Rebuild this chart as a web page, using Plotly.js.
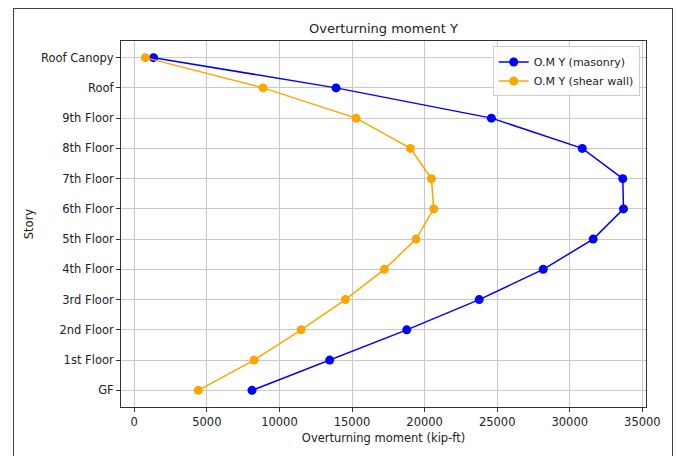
<!DOCTYPE html>
<html>
<head>
<meta charset="utf-8">
<script src="https://cdn.plot.ly/plotly-3.0.1.min.js"></script>
<style>
html,body{margin:0;padding:0;background:#fff;}
#wrap{position:relative;width:678px;height:456px;overflow:hidden;}
#chart{position:absolute;left:0;top:0;width:678px;height:456px;}
#frame{position:absolute;left:13px;top:8px;width:658px;height:470px;border:1px solid #444;pointer-events:none;}
</style>
</head>
<body>
<div id="wrap"><div id="chart"></div><div id="frame"></div></div>
<script>
const stories = ["GF","1st Floor","2nd Floor","3rd Floor","4th Floor","5th Floor","6th Floor","7th Floor","8th Floor","9th Floor","Roof","Roof Canopy"];
const masonry = [8110,13460,18770,23760,28170,31610,33700,33650,30860,24600,13900,1330];
const shearWall = [4410,8250,11490,14540,17230,19410,20630,20470,19020,15280,8870,760];
const xTicks = [0,5000,10000,15000,20000,25000,30000,35000];

const font = "DejaVu Sans, sans-serif";
const traces = [
  {x: masonry, y: stories, name: "O.M Y (masonry)", type: "scatter", mode: "lines+markers",
   line: {color: "#0000ff", width: 1.5}, marker: {color: "#0000ff", size: 9}},
  {x: shearWall, y: stories, name: "O.M Y (shear wall)", type: "scatter", mode: "lines+markers",
   line: {color: "#ffa500", width: 1.5}, marker: {color: "#ffa500", size: 9}}
];
const layout = {
  width: 678, height: 456,
  margin: {l: 121, r: 32, t: 41, b: 49, pad: 0},
  paper_bgcolor: "rgba(0,0,0,0)", plot_bgcolor: "#fff",
  font: {family: font, size: 11.5, color: "#222"},
  title: {text: "Overturning moment Y", font: {family: font, size: 13, color: "#222"}, x: 0.5655, xanchor: "center", y: 0.938, yanchor: "middle"},
  showlegend: true,
  legend: {x: 0.988, xanchor: "right", y: 0.985, yanchor: "top", bgcolor: "rgba(255,255,255,0.85)", bordercolor: "#cccccc", borderwidth: 1, font: {family: font, size: 11, color: "#222"}, tracegroupgap: 0},
  xaxis: {
    range: [-913, 35250], tickvals: xTicks, ticktext: xTicks.map(String),
    showgrid: true, gridcolor: "#c8c8c8", gridwidth: 1, zeroline: false,
    showline: true, linecolor: "#333", linewidth: 1, mirror: true,
    ticks: "outside", ticklen: 4, tickcolor: "#333",
    tickfont: {family: font, size: 11.5, color: "#222"},
    title: {text: "Overturning moment (kip-ft)", font: {family: font, size: 11.5, color: "#222"}, standoff: 6}
  },
  yaxis: {
    type: "category", categoryorder: "array", categoryarray: stories,
    range: [-0.55, 11.55],
    showgrid: true, gridcolor: "#c8c8c8", gridwidth: 1, zeroline: false,
    showline: true, linecolor: "#333", linewidth: 1, mirror: true,
    ticks: "outside", ticklen: 4, tickcolor: "#333",
    tickfont: {family: font, size: 11.5, color: "#222"},
    title: {text: "Story", font: {family: font, size: 11.5, color: "#222"}, standoff: 4}
  }
};
Plotly.newPlot("chart", traces, layout, {displayModeBar: false, staticPlot: true});
</script>
</body>
</html>
